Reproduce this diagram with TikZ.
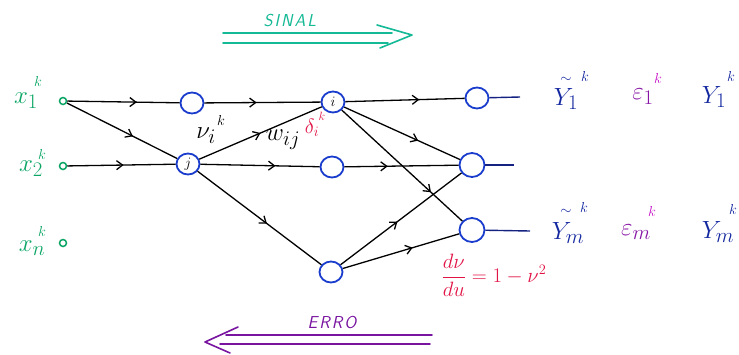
\documentclass[tikz,border=0pt]{standalone}
\usepackage{amsmath}
\usetikzlibrary{arrows.meta,decorations.markings,shapes.geometric}
\definecolor{greenlab}{RGB}{10,165,100}
\definecolor{sinalcol}{RGB}{20,185,150}
\definecolor{nodeblue}{RGB}{25,60,205}
\definecolor{ylab}{RGB}{20,40,160}
\definecolor{epscol}{RGB}{135,20,165}
\definecolor{epsk}{RGB}{200,20,200}
\definecolor{errocol}{RGB}{120,20,160}
\definecolor{redlab}{RGB}{225,20,70}
\definecolor{outline}{RGB}{20,35,130}
\newcommand\hwfont{\fontsize{24.88}{28}\selectfont}
\newcommand\kfont{\fontsize{14.4}{18}\selectfont}
\begin{document}
\begin{tikzpicture}[x=1pt,y=-1pt,
  neuron/.style={ellipse,draw=nodeblue,line width=1.8pt,minimum width=23pt,minimum height=21pt,inner sep=0pt,font=\fontsize{14.4}{16}\selectfont},
  inp/.style={circle,draw=greenlab,line width=1.5pt,minimum size=7pt,inner sep=0pt},
  conn/.style={line width=1.3pt,draw=black},
  outln/.style={line width=1.4pt,draw=outline},
  midarrow/.style={postaction={decorate},decoration={markings,mark=at position #1 with {\arrow{Straight Barb[length=6pt,width=9pt]}}}},
  lab/.style={inner sep=0pt,font=\hwfont},
  ksup/.style={inner sep=0pt,font=\kfont},
  bigarrow/.style={line width=1.6pt,line cap=round,line join=round},
  bigtext/.style={inner sep=0pt,font=\fontsize{17.28}{20}\selectfont\sffamily\itshape}
]
\useasboundingbox (0,0) rectangle (739,354);

% input nodes
\node[inp] (x1) at (63,101) {};
\node[inp] (x2) at (63,166) {};
\node[inp] (xn) at (63,243) {};
\node[lab,text=greenlab] (lx1) at (26,101) {$x_1$};
\node[ksup,text=greenlab] (kx1) at (38,81) {$k$};
\node[lab,text=greenlab] (lx2) at (31,169) {$x_2$};
\node[ksup,text=greenlab] (kx2) at (42,154) {$k$};
\node[lab,text=greenlab] (lxn) at (32,248) {$x_n$};
\node[ksup,text=greenlab] (kxn) at (42,231) {$k$};

% neurons
\node[neuron] (A) at (192,103) {};
\node[neuron] (j) at (188,164) {$j$};
\node[neuron] (i) at (333,102) {$i$};
\node[neuron] (M) at (332,167) {};
\node[neuron] (B) at (331,272) {};
\node[neuron] (O1) at (477,98) {};
\node[neuron,minimum width=25pt,minimum height=24pt] (O2) at (472,165) {};
\node[neuron,minimum width=25pt,minimum height=24pt] (O3) at (472,230) {};

% connections
\draw[conn,midarrow=0.62] (x1) -- (A);
\draw[conn,midarrow=0.6] (x1) -- (j);
\draw[conn,midarrow=0.52] (x2) -- (j);
\draw[conn,midarrow=0.45] (A) -- (i);
\draw[conn,midarrow=0.5] (j) -- (i);
\draw[conn,midarrow=0.63] (j) -- (M);
\draw[conn,midarrow=0.56] (j) -- (B);
\draw[conn,midarrow=0.62] (i) -- (O1);
\draw[conn,midarrow=0.64] (i) -- (O2);
\draw[conn,midarrow=0.38] (M) -- (O2);
\draw[conn,midarrow=0.74] (i) -- (O3);
\draw[conn,midarrow=0.47] (B) -- (O2);
\draw[conn,midarrow=0.6] (B) -- (O3);

% outputs
\coordinate (e1) at (520,97);
\coordinate (e2) at (514,165);
\coordinate (e3) at (530,231);
\draw[outln] (O1) -- (e1);
\draw[outln] (O2) -- (e2);
\draw[outln] (O3) -- (e3);

% inner labels
\node[lab] (nu) at (206,136) {$\nu_i$};
\node[ksup] (knu) at (221,120) {$k$};
\node[lab] (w) at (283,140) {$w_{ij}$};
\node[inner sep=0pt,text=redlab,font=\fontsize{20.74}{24}\selectfont] (d) at (312,128) {$\delta_i$};
\node[inner sep=0pt,text=redlab,font=\fontsize{12}{14}\selectfont] (dk) at (322,116) {$k$};

% right labels
\node[ksup,text=ylab] (t1) at (566,80) {$\sim$};
\node[lab,text=ylab] (ty1) at (566,99) {$Y_1$};
\node[ksup,text=ylab] (kty1) at (585,76) {$k$};
\node[lab,text=epscol] (e1l) at (643,97) {$\varepsilon_1$};
\node[ksup,text=epsk] (ke1) at (658,78) {$k$};
\node[lab,text=ylab] (y1) at (714,97) {$Y_1$};
\node[ksup,text=ylab] (ky1) at (731,76) {$k$};
\node[ksup,text=ylab] (tm) at (566,212) {$\sim$};
\node[lab,text=ylab] (tym) at (568,233) {$Y_m$};
\node[ksup,text=ylab] (ktym) at (584,207) {$k$};
\node[lab,text=epscol] (eml) at (636,232) {$\varepsilon_m$};
\node[ksup,text=epsk] (kem) at (652,211) {$k$};
\node[lab,text=ylab] (ym) at (718,232) {$Y_m$};
\node[ksup,text=ylab] (kym) at (733,209) {$k$};

% derivative
\node[inner sep=0pt,text=redlab,font=\fontsize{20.74}{25}\selectfont] (der) at (494,275) {$\dfrac{d\nu}{du}=1-\nu^2$};

% SINAL arrow
\node[bigtext,text=sinalcol] (sinal) at (290,21) {S\kern2pt I\kern2pt N\kern2pt A\kern2pt L};
\draw[bigarrow,sinalcol] (223,33) -- (392,33);
\draw[bigarrow,sinalcol] (223,43) -- (388,43);
\draw[bigarrow,sinalcol] (377,25) -- (412,35) -- (380,48);

% ERRO arrow
\node[bigtext,text=errocol] (erro) at (332,322) {E\kern2pt R\kern2pt R\kern2pt O};
\draw[bigarrow,errocol] (432,335) -- (226,335);
\draw[bigarrow,errocol] (430,344) -- (220,344);
\draw[bigarrow,errocol] (238,327) -- (205,342) -- (230,353);
\end{tikzpicture}
\end{document}
